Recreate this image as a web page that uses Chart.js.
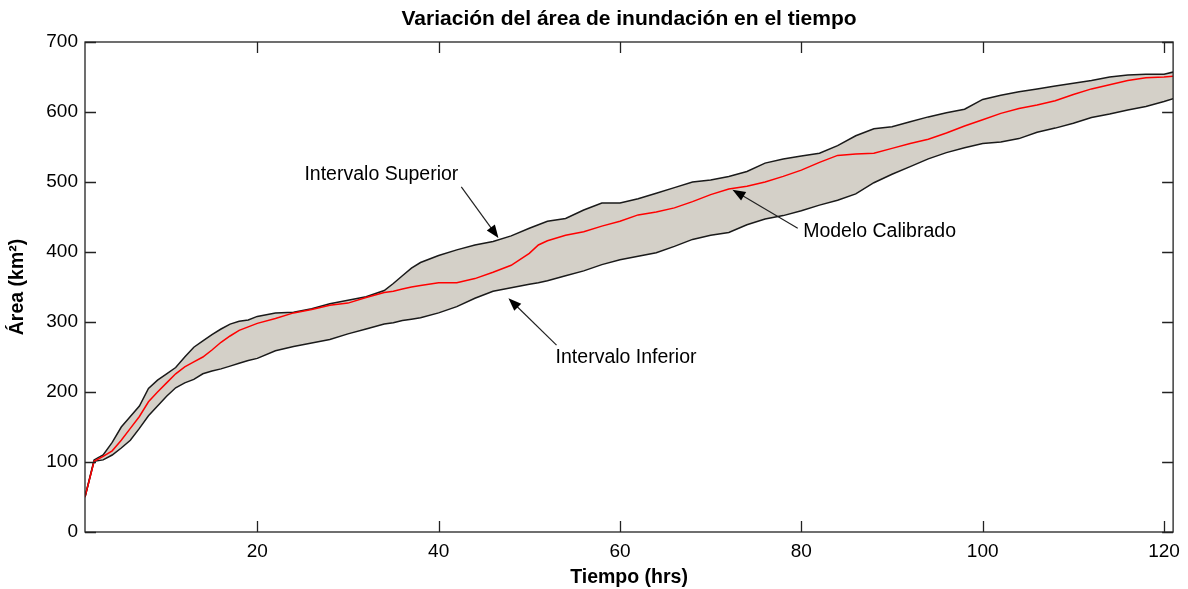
<!DOCTYPE html>
<html>
<head>
<meta charset="utf-8">
<script src="https://cdn.jsdelivr.net/npm/chart.js@4.4.1/dist/chart.umd.min.js"></script>
<style>
  html, body { margin: 0; padding: 0; background: #fff; }
</style>
</head>
<body>
<canvas id="areaChart" width="1188" height="589"></canvas>
<script>
// horas de simulación
const hours = [1,2,3,4,5,6,7,8,9,10,11,12,13,14,15,16,17,18,19,20,
  22,24,26,28,30,32,34,35,36,37,38,40,42,44,46,48,50,51,
  52,54,56,58,60,62,64,66,68,70,72,74,76,78,80,82,84,86,88,90,
  92,94,96,98,100,102,104,106,108,110,112,114,116,118,120,121];

// área inundada (km2)
const modelo = [50,101,108,116,131,148,165,186,200,213,226,236,243,250,260,271,280,288,293,298,
  305,313,318,324,327,335,342,344,347,350,352,356,356,362,371,381,398,410,
  416,424,429,437,444,453,457,463,472,482,490,494,500,508,517,528,538,540,541,548,
  555,561,570,580,589,598,605,610,616,625,633,639,645,649,650,651];

const superior = [50,103,110,128,150,165,180,205,217,226,235,250,264,273,282,290,297,301,303,308,
  313,314,319,326,331,336,345,355,366,377,385,395,403,410,415,423,434,439,
  444,448,460,470,470,476,484,492,500,503,508,515,527,533,537,541,552,566,576,579,
  586,593,599,604,618,624,629,633,637,641,645,650,653,654,654,657];

const inferior = [50,101,103,110,120,131,148,166,180,194,206,213,218,226,230,233,237,241,245,248,
  259,265,270,275,283,290,297,299,302,304,306,313,322,334,344,349,354,356,
  359,366,373,382,389,394,399,408,418,424,428,439,447,452,459,467,474,483,499,511,
  522,533,542,549,555,557,562,571,577,584,592,597,603,608,615,619];

const xTicks = [20, 40, 60, 80, 100, 120];
const yTicks = [0, 100, 200, 300, 400, 500, 600, 700];

// etiquetas con flecha (coordenadas en unidades de los ejes)
const notas = [
  { text: "Intervalo Superior", x: 25.2, y: 511, from: [42.5, 493], to: [46.6, 420] },
  { text: "Intervalo Inferior", x: 52.9, y: 249, from: [53.0, 267], to: [47.7, 334] },
  { text: "Modelo Calibrado", x: 80.2, y: 429, from: [79.6, 434], to: [72.4, 489] }
];

const FONT = 'Arial, "Liberation Sans", sans-serif';

function toPoints(ys) {
  return hours.map((h, i) => ({ x: h, y: ys[i] }));
}

const tituloPlugin = {
  id: 'titulo',
  afterDraw(chart) {
    const { ctx, chartArea } = chart;
    ctx.save();
    ctx.fillStyle = '#000';
    ctx.font = 'bold 21px ' + FONT;
    ctx.textAlign = 'center';
    ctx.textBaseline = 'middle';
    ctx.fillText('Variación del área de inundación en el tiempo', (chartArea.left + chartArea.right) / 2, 19);
    ctx.restore();
  }
};

// caja de ejes con marcas hacia adentro
const cajaPlugin = {
  id: 'caja',
  afterDatasetsDraw(chart) {
    const { ctx, chartArea: a, scales } = chart;
    const len = 11;
    ctx.save();
    ctx.strokeStyle = '#222';
    ctx.lineWidth = 1.3;
    ctx.strokeRect(a.left, a.top, a.right - a.left, a.bottom - a.top);
    ctx.beginPath();
    xTicks.forEach(v => {
      const px = Math.round(scales.x.getPixelForValue(v)) + 0.5;
      ctx.moveTo(px, a.bottom); ctx.lineTo(px, a.bottom - len);
      ctx.moveTo(px, a.top); ctx.lineTo(px, a.top + len);
    });
    yTicks.forEach(v => {
      const py = Math.round(scales.y.getPixelForValue(v)) + 0.5;
      ctx.moveTo(a.left, py); ctx.lineTo(a.left + len, py);
      ctx.moveTo(a.right, py); ctx.lineTo(a.right - len, py);
    });
    ctx.stroke();
    ctx.restore();
  }
};

const notasPlugin = {
  id: 'notas',
  afterDraw(chart) {
    const { ctx, scales } = chart;
    const sx = v => scales.x.getPixelForValue(v);
    const sy = v => scales.y.getPixelForValue(v);
    ctx.save();
    ctx.fillStyle = '#000';
    ctx.strokeStyle = '#222';
    ctx.font = '19.5px ' + FONT;
    ctx.textAlign = 'left';
    ctx.textBaseline = 'middle';
    notas.forEach(n => {
      ctx.fillText(n.text, sx(n.x), sy(n.y));
      const x0 = sx(n.from[0]), y0 = sy(n.from[1]);
      const x1 = sx(n.to[0]), y1 = sy(n.to[1]);
      const ang = Math.atan2(y1 - y0, x1 - x0);
      ctx.lineWidth = 1.2;
      ctx.beginPath();
      ctx.moveTo(x0, y0);
      ctx.lineTo(x1 - 8 * Math.cos(ang), y1 - 8 * Math.sin(ang));
      ctx.stroke();
      ctx.beginPath();
      ctx.moveTo(x1, y1);
      ctx.lineTo(x1 - 13 * Math.cos(ang) + 5 * Math.sin(ang), y1 - 13 * Math.sin(ang) - 5 * Math.cos(ang));
      ctx.lineTo(x1 - 13 * Math.cos(ang) - 5 * Math.sin(ang), y1 - 13 * Math.sin(ang) + 5 * Math.cos(ang));
      ctx.closePath();
      ctx.fill();
    });
    ctx.restore();
  }
};

const ctx = document.getElementById('areaChart');

new Chart(ctx, {
  type: 'line',
  data: {
    datasets: [
      {
        label: 'Modelo Calibrado',
        data: toPoints(modelo),
        borderColor: '#ff0000',
        borderWidth: 1.5,
        pointRadius: 0,
        fill: false
      },
      {
        label: 'Intervalo Superior',
        data: toPoints(superior),
        borderColor: '#1a1a1a',
        borderWidth: 1.5,
        pointRadius: 0,
        backgroundColor: 'rgb(212,208,200)',
        fill: { target: 2 }
      },
      {
        label: 'Intervalo Inferior',
        data: toPoints(inferior),
        borderColor: '#1a1a1a',
        borderWidth: 1.5,
        pointRadius: 0,
        fill: false
      }
    ]
  },
  options: {
    responsive: false,
    animation: false,
    layout: { padding: { top: 42, right: 13, left: 0, bottom: 0 } },
    elements: { line: { tension: 0 } },
    plugins: {
      legend: { display: false },
      tooltip: { enabled: false },
      filler: { drawTime: 'beforeDatasetsDraw' }
    },
    scales: {
      x: {
        type: 'linear',
        min: 1,
        max: 121,
        afterBuildTicks: s => { s.ticks = xTicks.map(v => ({ value: v })); },
        afterFit: s => { s.height = 57; },
        grid: { display: false, drawTicks: false },
        border: { display: false },
        ticks: { color: '#000', font: { family: FONT, size: 19 }, padding: 8, maxRotation: 0, autoSkip: false },
        title: { display: true, text: 'Tiempo (hrs)', color: '#000', font: { family: FONT, size: 19.5, weight: 'bold' }, padding: 0 }
      },
      y: {
        min: 0,
        max: 700,
        afterBuildTicks: s => { s.ticks = yTicks.map(v => ({ value: v })); },
        afterFit: s => { s.width = 85; },
        grid: { display: false, drawTicks: false },
        border: { display: false },
        ticks: { color: '#000', font: { family: FONT, size: 19 }, padding: 7, autoSkip: false },
        title: { display: true, text: 'Área (km²)', color: '#000', font: { family: FONT, size: 19.5, weight: 'bold' }, padding: { top: 6 } }
      }
    }
  },
  plugins: [tituloPlugin, cajaPlugin, notasPlugin]
});
</script>
</body>
</html>
